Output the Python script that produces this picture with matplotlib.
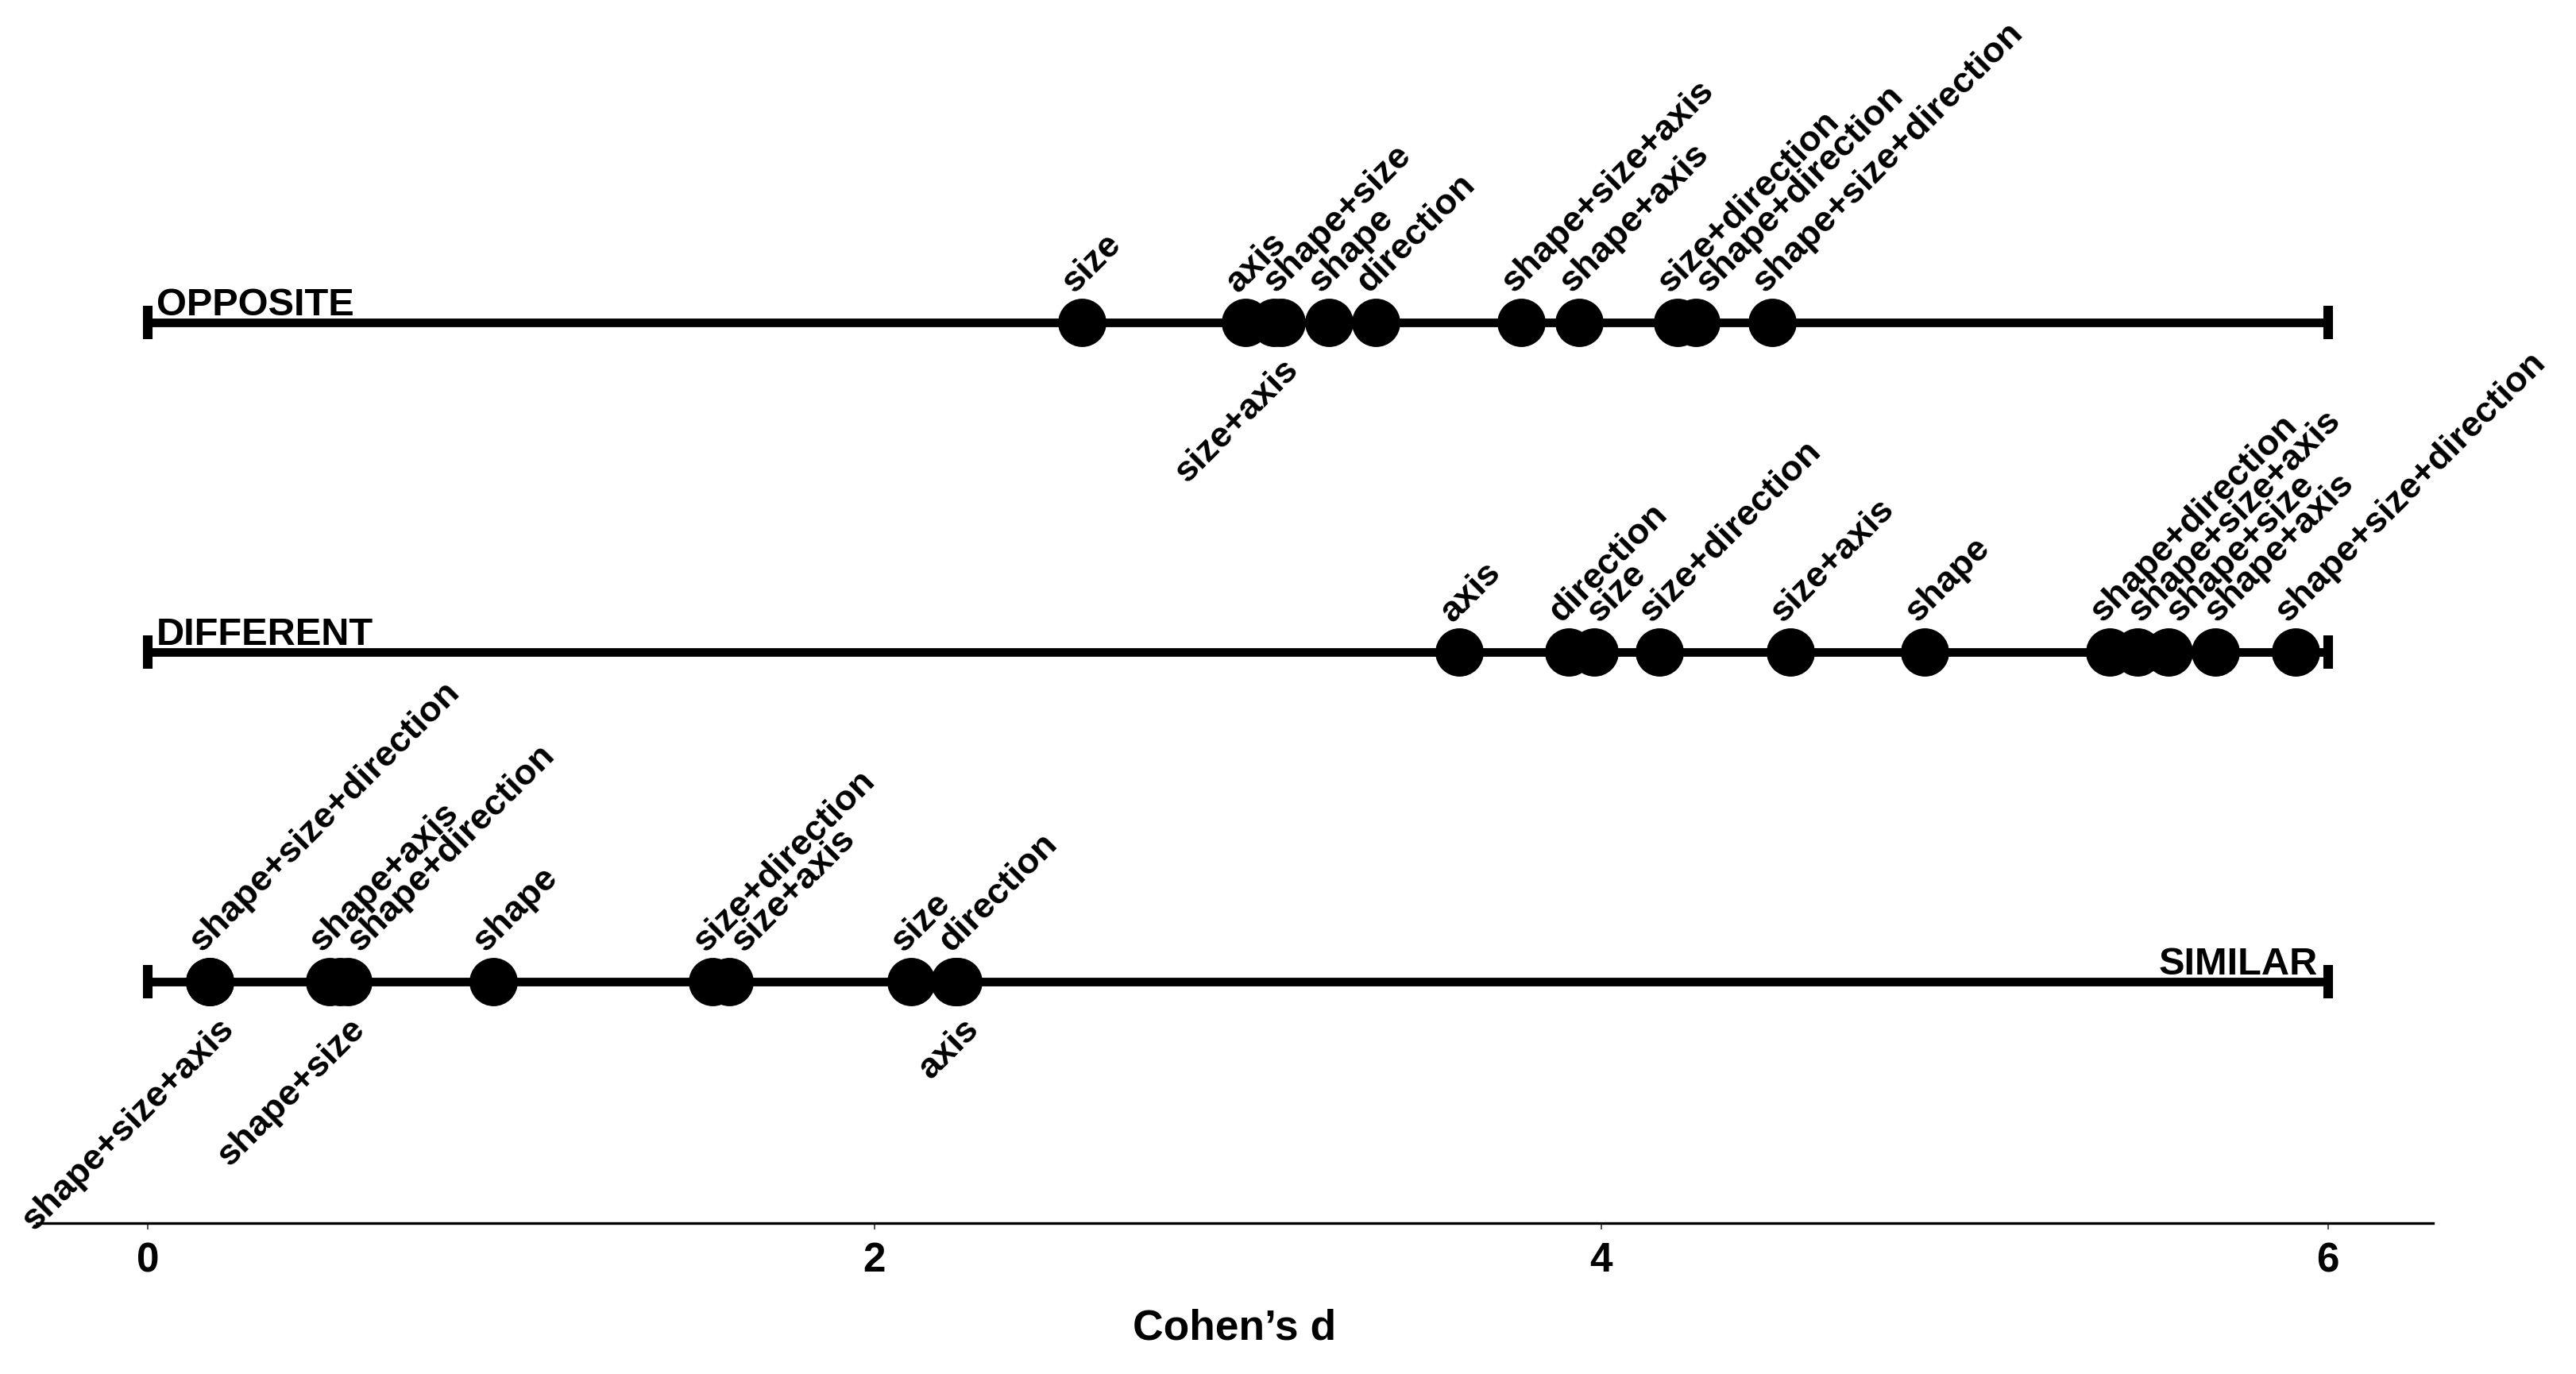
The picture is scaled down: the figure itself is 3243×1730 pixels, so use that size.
import matplotlib
matplotlib.use("Agg")
import matplotlib.pyplot as plt

# fonts: Helvetica-like bold everywhere
plt.rcParams['font.family'] = ['Liberation Sans', 'DejaVu Sans']
plt.rcParams['font.weight'] = 'bold'

# rows, top to bottom
rows = ['OPPOSITE', 'DIFFERENT', 'SIMILAR']
row_y = [3, 2, 1]

# effect sizes per condition (Cohen's d)
opposite_labels = ['size', 'axis', 'size+axis', 'shape+size', 'shape', 'direction',
                   'shape+size+axis', 'shape+axis', 'size+direction',
                   'shape+direction', 'shape+size+direction']
opposite_d = [2.57, 3.02, 3.10, 3.12, 3.25, 3.38, 3.78, 3.94, 4.21, 4.26, 4.47]
opposite_below = ['size+axis']

different_labels = ['axis', 'direction', 'size', 'size+direction', 'size+axis', 'shape',
                    'shape+direction', 'shape+size+axis', 'shape+size', 'shape+axis',
                    'shape+size+direction']
different_d = [3.61, 3.91, 3.98, 4.16, 4.52, 4.89, 5.40, 5.475, 5.56, 5.69, 5.91]
different_below = []

similar_labels = ['shape+size+direction', 'shape+size+axis', 'shape+axis', 'shape+size',
                  'shape+direction', 'shape', 'size+direction', 'size+axis', 'size',
                  'direction', 'axis']
similar_d = [0.17, 0.17, 0.50, 0.53, 0.55, 0.95, 1.555, 1.60, 2.10, 2.23, 2.22]
similar_below = ['shape+size+axis', 'shape+size', 'axis']

row_labels = [opposite_labels, different_labels, similar_labels]
row_d = [opposite_d, different_d, similar_d]
row_below = [opposite_below, different_below, similar_below]

x_min, x_max = 0, 6
ticks = [0, 2, 4, 6]


def spread(xs, gap=0.105):
    # push overlapping labels to the right so they don't collide
    order = sorted(range(len(xs)), key=lambda i: xs[i])
    out = list(xs)
    prev = None
    for i in order:
        if prev is not None and out[i] < prev + gap:
            out[i] = prev + gap
        prev = out[i]
    return out


fig = plt.figure(figsize=(3243 / 300, 1731 / 300), dpi=300)
ax = fig.add_axes([45.5 / 3243, 1 - 1541 / 1731, (3063 - 45.5) / 3243, 1541 / 1731])

for name, y, labs, ds, below in zip(rows, row_y, row_labels, row_d, row_below):
    # the scale line with end caps
    ax.hlines(y, x_min, x_max, color='black', lw=2.6, zorder=1)
    ax.plot([x_min, x_max], [y, y], ls='none', marker='|', ms=10, mew=2.9,
            color='black', zorder=1)
    ax.plot(ds, [y] * len(ds), ls='none', marker='o', ms=14.6, mew=0,
            color='black', zorder=2)

    up = [i for i, l in enumerate(labs) if l not in below]
    dn = [i for i, l in enumerate(labs) if l in below]
    up_x = spread([ds[i] for i in up])
    dn_x = spread([ds[i] for i in dn])
    for i, lx in zip(up, up_x):
        ax.annotate(labs[i], (lx, y), xytext=(-2.2, 9), textcoords='offset points',
                    rotation=45, rotation_mode='anchor', ha='left', va='baseline',
                    fontsize=10.9, fontweight='bold')
    for i, lx in zip(dn, dn_x):
        ax.annotate(labs[i], (lx, y), xytext=(2.4, -9), textcoords='offset points',
                    rotation=45, rotation_mode='anchor', ha='right', va='top',
                    fontsize=10.9, fontweight='bold')

    if name == 'SIMILAR':
        ax.annotate(name, (x_max, y), xytext=(-3, 2.4), textcoords='offset points',
                    ha='right', va='baseline', fontsize=11.7, fontweight='bold')
    else:
        ax.annotate(name, (x_min, y), xytext=(2.6, 2.4), textcoords='offset points',
                    ha='left', va='baseline', fontsize=11.7, fontweight='bold')

ax.set_xlim(-0.307, 6.289)
ax.set_ylim(0.2675, 3.981)
for s in ['left', 'right', 'top']:
    ax.spines[s].set_visible(False)
ax.spines['bottom'].set_linewidth(0.8)
ax.set_yticks([])
ax.set_xticks(ticks)
ax.set_xticklabels([str(t) for t in ticks], fontsize=12.3, fontweight='bold')
ax.tick_params(axis='x', length=2, width=0.4, color='#333333', pad=3.4)
ax.set_xlabel('Cohen\u2019s d', fontsize=12.8, fontweight='bold', labelpad=8.5)

fig.savefig('out.png', dpi=300)
